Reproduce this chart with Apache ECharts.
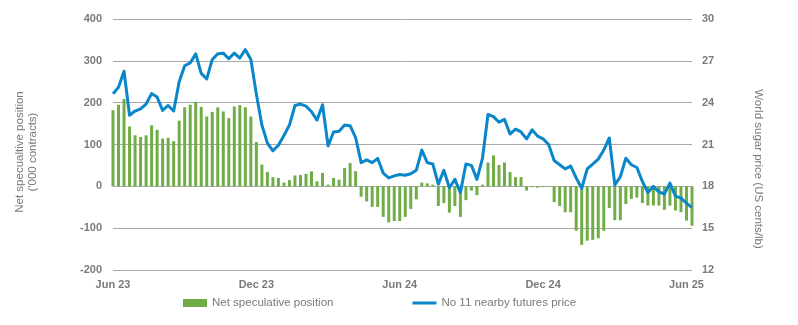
<!DOCTYPE html>
<html>
<head>
<meta charset="utf-8">
<script src="https://cdn.jsdelivr.net/npm/echarts@6/dist/echarts.min.js"></script>
<style>
  html, body { margin: 0; padding: 0; background: #ffffff; }
  #chart { width: 798px; height: 325px; }
</style>
</head>
<body>
<div id="chart"></div>
<script>
// Weekly data, first week of June 2023 to second week of June 2025
const startDate = '2023-06-06';

// Net speculative position, '000 contracts
const netPosition = [
  182, 195, 209, 143, 122, 118, 122, 146, 135, 114,
  116, 108, 157, 189, 195, 202, 190, 167, 178, 189,
  179, 163, 191, 194, 189, 167, 106, 52, 34, 22,
  20, 9, 15, 26, 27, 30, 36, 12, 32, 4,
  20, 16, 44, 56, 36, -25, -36, -49, -49, -73,
  -86, -83, -83, -73, -54, -31, 9, 7, 4, -47,
  -40, -63, -47, -73, -33, -10, -21, 4, 57, 74,
  51, 57, 34, 22, 22, -10, -2, -3, -2, 1,
  -38, -47, -62, -62, -106, -140, -130, -128, -124, -106,
  -52, -81, -81, -42, -30, -27, -40, -46, -46, -46,
  -56, -46, -58, -62, -82, -94
];

// No 11 nearby futures price, US cents/lb
const futuresPrice = [
  24.64, 25.1, 26.25, 23.1, 23.4, 23.55, 23.9, 24.65, 24.4, 23.45,
  23.8, 23.4, 25.5, 26.65, 26.85, 27.5, 26.1, 25.7, 27.1, 27.5,
  27.55, 27.15, 27.55, 27.2, 27.8, 27.1, 24.6, 22.4, 21.1, 20.55,
  20.95, 21.65, 22.4, 23.8, 23.9, 23.75, 23.35, 22.75, 23.85, 20.9,
  21.9, 21.95, 22.4, 22.35, 21.5, 19.7, 19.9, 19.7, 20.0, 18.95,
  18.6, 18.75, 18.85, 18.8, 18.9, 19.15, 20.6, 19.7, 19.6, 18.15,
  19.15, 17.9, 18.5, 17.55, 19.6, 19.5, 18.5, 20.0, 23.15, 23.0,
  22.6, 22.8, 21.75, 22.1, 21.9, 21.4, 22.05, 21.6, 21.4, 21.0,
  19.85, 19.55, 19.25, 19.45, 18.6, 17.85, 19.25, 19.6, 19.95, 20.6,
  21.47, 18.1, 18.68, 20.02, 19.55, 19.35, 18.35, 17.56, 18.0, 17.6,
  17.45, 18.23, 17.3, 17.15, 16.8, 16.47
];

// Half-yearly x-axis labels and the week each one sits on
const tickIndex = [0, 26, 52, 78, 104];
const tickLabels = ['Jun 23', 'Dec 23', 'Jun 24', 'Dec 24', 'Jun 25'];

const seriesNames = ['Net speculative position', 'No 11 nearby futures price'];
const leftAxisTitle = "Net specualtive position\n('000 contracts)";
const rightAxisTitle = 'World sugar price (US cents/lb)';

// Week categories built from the start date
const weeks = netPosition.map((_, i) => {
  const d = new Date(startDate + 'T00:00:00Z');
  d.setUTCDate(d.getUTCDate() + 7 * i);
  return d.toISOString().slice(0, 10);
});

const GREEN = '#70ad47';
const BLUE = '#0a86cb';
const GRID = '#a8a8a8';
const TEXT = '#7a7a7a';
const FONT = '"Liberation Sans", Arial, sans-serif';

const chart = echarts.init(document.getElementById('chart'), null, { renderer: 'canvas' });

chart.setOption({
  animation: false,
  backgroundColor: '#ffffff',
  grid: { left: 113, right: 106, top: 19, bottom: 55, containLabel: false },
  legend: {
    left: 183,
    top: 297,
    padding: 0,
    itemGap: 79,
    itemWidth: 24,
    itemHeight: 8,
    textStyle: { color: TEXT, fontFamily: FONT, fontSize: 11.5 },
    data: [
      { name: seriesNames[0], icon: 'rect', itemStyle: { color: GREEN } },
      { name: seriesNames[1], icon: 'path://M0,0H24V3H0Z', itemStyle: { color: BLUE } }
    ]
  },
  xAxis: {
    type: 'category',
    data: weeks,
    boundaryGap: false,
    axisLine: { show: false },
    axisTick: { show: false },
    splitLine: { show: false },
    axisLabel: {
      interval: (idx) => tickIndex.indexOf(idx) !== -1,
      formatter: (val, idx) => tickLabels[tickIndex.indexOf(idx)] || '',
      margin: 9,
      color: TEXT,
      fontFamily: FONT,
      fontSize: 11,
      fontWeight: 'bold'
    }
  },
  yAxis: [
    {
      type: 'value',
      min: -200,
      max: 400,
      interval: 100,
      axisLine: { show: false },
      axisTick: { show: false },
      splitLine: { show: true, lineStyle: { color: GRID, width: 1 } },
      axisLabel: { margin: 11, color: TEXT, fontFamily: FONT, fontSize: 11, fontWeight: 'bold' }
    },
    {
      type: 'value',
      min: 12,
      max: 30,
      interval: 3,
      axisLine: { show: false },
      axisTick: { show: false },
      splitLine: { show: false },
      axisLabel: { margin: 10, color: TEXT, fontFamily: FONT, fontSize: 11, fontWeight: 'bold' }
    }
  ],
  series: [
    {
      name: seriesNames[0],
      type: 'bar',
      yAxisIndex: 0,
      data: netPosition,
      barWidth: 3,
      itemStyle: { color: GREEN },
      z: 2
    },
    {
      name: seriesNames[1],
      type: 'line',
      yAxisIndex: 1,
      data: futuresPrice,
      symbol: 'none',
      smooth: false,
      lineStyle: { color: BLUE, width: 3, join: 'round' },
      itemStyle: { color: BLUE },
      z: 3
    }
  ],
  graphic: [
    {
      type: 'text',
      x: 26,
      y: 152,
      rotation: Math.PI / 2,
      style: {
        text: leftAxisTitle,
        textAlign: 'center',
        textVerticalAlign: 'middle',
        fill: TEXT,
        font: '11.5px ' + FONT,
        lineHeight: 13
      }
    },
    {
      type: 'text',
      x: 758,
      y: 169,
      rotation: -Math.PI / 2,
      style: {
        text: rightAxisTitle,
        textAlign: 'center',
        textVerticalAlign: 'middle',
        fill: TEXT,
        font: '11.5px ' + FONT
      }
    }
  ]
});
</script>
</body>
</html>
